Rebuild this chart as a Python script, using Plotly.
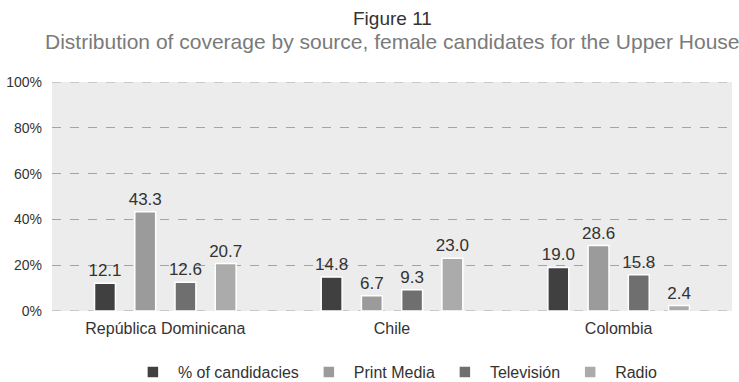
import plotly.graph_objects as go

countries = ["República Dominicana", "Chile", "Colombia"]
series_names = ["% of candidacies", "Print Media", "Televisión", "Radio"]
candidacies = [12.1, 14.8, 19.0]
print_media = [43.3, 6.7, 28.6]
television = [12.6, 9.3, 15.8]
radio = [20.7, 23.0, 2.4]
y_ticks = [0, 20, 40, 60, 80, 100]

series_values = [candidacies, print_media, television, radio]
colors = ["#404040", "#9b9b9b", "#6f6f6f", "#ababab"]

font_family = "Liberation Sans, Arial, sans-serif"
grid_color = "#a4a4a4"

fig = go.Figure()
for name, vals, col in zip(series_names, series_values, colors):
    fig.add_trace(go.Bar(
        x=countries, y=vals, name=name,
        marker=dict(color=col, line=dict(color="white", width=1.5)),
        text=[f"{v:.1f}" for v in vals],
        textposition="outside",
        constraintext="none",
        textfont=dict(size=17, color="#333333"),
        cliponaxis=False,
    ))

fig.update_layout(
    width=739, height=382,
    margin=dict(l=52, r=7, t=82, b=71, autoexpand=False),
    paper_bgcolor="white",
    plot_bgcolor="#ececec",
    barmode="group",
    bargap=0.29,
    bargroupgap=0.48,
    font=dict(family=font_family, color="#333333", size=14),
    showlegend=True,
    legend=dict(
        orientation="h", x=0.505, xanchor="center",
        yref="container", y=0.026, yanchor="middle",
        font=dict(size=16, color="#333333"),
        itemwidth=40,
        traceorder="normal",
    ),
)

fig.update_xaxes(
    showgrid=False, zeroline=False, showline=False, ticks="",
    automargin=False,
    ticklabelstandoff=6,
    tickfont=dict(size=16, color="#333333"),
)
fig.update_yaxes(
    range=[0, 100], tickvals=y_ticks,
    ticktext=[f"{t}%" for t in y_ticks],
    showgrid=True, gridcolor=grid_color, griddash="dash", gridwidth=1,
    zeroline=False, showline=False, ticks="",
    automargin=False,
    ticklabelstandoff=9,
    tickfont=dict(size=14, color="#333333"),
)

# dashed rules along the 0% and 100% edges of the plotting area
for edge in (0, 100):
    fig.add_shape(
        type="line", xref="paper", yref="y", x0=0, x1=1, y0=edge, y1=edge,
        line=dict(color=grid_color, width=1, dash="dash"), layer="below",
    )

fig.add_annotation(
    text="Figure 11", xref="paper", yref="paper", x=0.5, y=1.0,
    yshift=64, xanchor="center", yanchor="middle", showarrow=False,
    font=dict(size=19, color="#333333", family=font_family),
)
fig.add_annotation(
    text="Distribution of coverage by source, female candidates for the Upper House",
    xref="paper", yref="paper", x=0.5, y=1.0,
    yshift=41, xanchor="center", yanchor="middle", showarrow=False,
    font=dict(size=21, color="#7a7a7a", family=font_family),
)

fig.write_html("out.html")
